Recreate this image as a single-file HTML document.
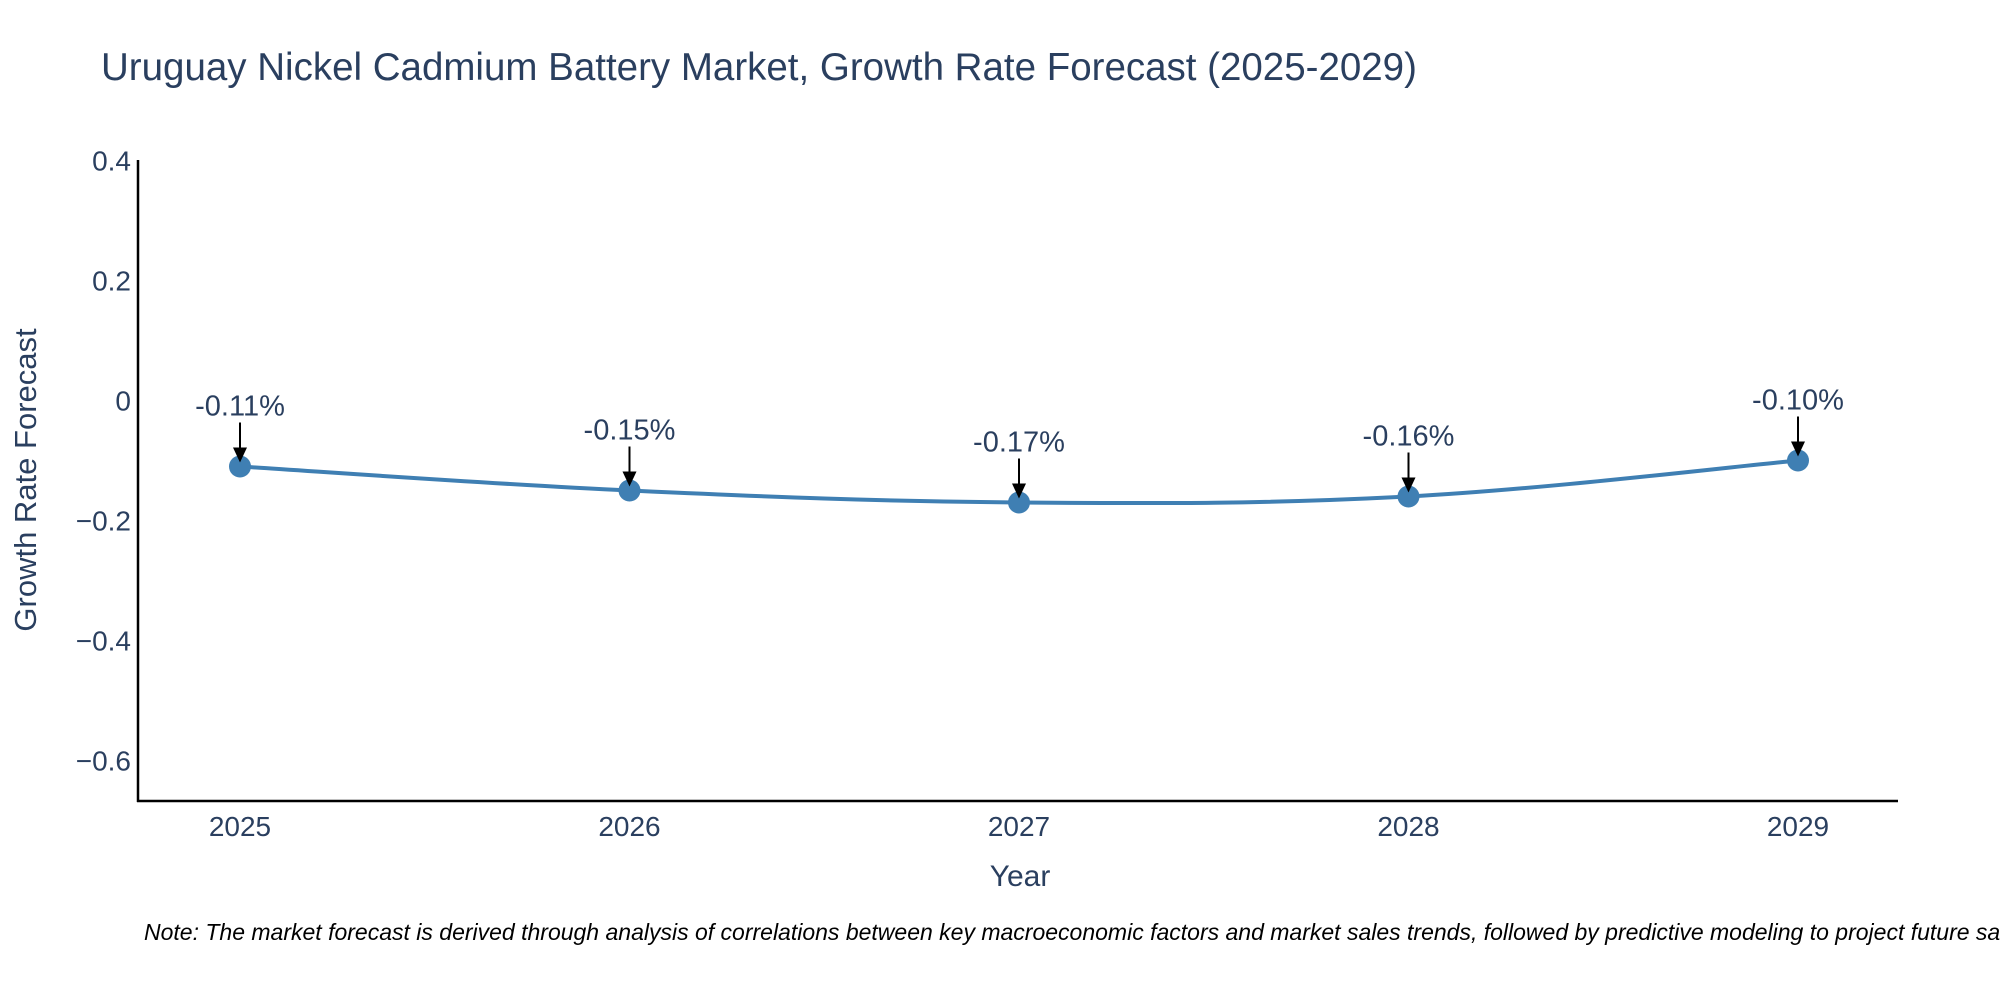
<!DOCTYPE html>
<html><head><meta charset="utf-8"><style>
body{margin:0;background:#fff;}
svg{display:block;font-family:"Liberation Sans","DejaVu Sans",sans-serif;}
</style></head><body>
<svg id="chart" width="2000" height="1000" viewBox="0 0 2000 1000">
<text x="101" y="80" font-size="38.5" fill="#2a3f5f">Uruguay Nickel Cadmium Battery Market, Growth Rate Forecast (2025-2029)</text>
<g id="yticks"></g>
<g id="xticks"></g>
<line x1="138" y1="160" x2="138" y2="802" stroke="#000" stroke-width="2.5"/>
<line x1="137" y1="801" x2="1898" y2="801" stroke="#000" stroke-width="2.5"/>
<text transform="translate(36,480) rotate(-90)" text-anchor="middle" font-size="31" fill="#2a3f5f">Growth Rate Forecast</text>
<text x="1020" y="886" text-anchor="middle" font-size="30" fill="#2a3f5f">Year</text>
<g id="series"></g>
<g id="annots"></g>
<text x="144" y="940" font-size="23" font-style="italic" fill="#000">Note: The market forecast is derived through analysis of correlations between key macroeconomic factors and market sales trends, followed by predictive modeling to project future sales.</text>
</svg>
<script>
const years = [2025, 2026, 2027, 2028, 2029];
const growth = [-0.11, -0.15, -0.17, -0.16, -0.10];
const valueLabels = ["-0.11%", "-0.15%", "-0.17%", "-0.16%", "-0.10%"];
const yTickValues = [0.4, 0.2, 0, -0.2, -0.4, -0.6];
const yTickLabels = ["0.4", "0.2", "0", "\u22120.2", "\u22120.4", "\u22120.6"];

const NS = "http://www.w3.org/2000/svg";
function xs(yr){ return 240 + (yr - 2025) * 389.5; }
function ys(v){ return 400.5 - v * 600; }
function mk(tag, attrs, parent){
  const e = document.createElementNS(NS, tag);
  for (const k in attrs) e.setAttribute(k, attrs[k]);
  parent.appendChild(e); return e;
}
const yt = document.getElementById('yticks');
yTickValues.forEach((v,i)=>{
  const t = mk('text',{x:131,y:ys(v)+10,'text-anchor':'end','font-size':28,fill:'#2a3f5f'},yt);
  
  
  t.textContent = yTickLabels[i];
});
const xt = document.getElementById('xticks');
years.forEach(yr=>{
  const t = mk('text',{x:xs(yr),y:836,'text-anchor':'middle','font-size':28,fill:'#2a3f5f'},xt);
  
  
  t.textContent = yr;
});
const pts = years.map((yr,i)=>[xs(yr), ys(growth[i])]);
let d = "M"+pts[0][0]+","+pts[0][1];
for (let i=0;i<pts.length-1;i++){
  const p0=pts[Math.max(i-1,0)], p1=pts[i], p2=pts[i+1], p3=pts[Math.min(i+2,pts.length-1)];
  const s=0.18;
  const c1=[p1[0]+(p2[0]-p0[0])*s, p1[1]+(p2[1]-p0[1])*s];
  const c2=[p2[0]-(p3[0]-p1[0])*s, p2[1]-(p3[1]-p1[1])*s];
  d += " C"+c1+" "+c2+" "+p2;
}
const ser = document.getElementById('series');
const line = mk('path',{d:d,fill:'none',stroke:'#3f7fb3','stroke-width':4},ser);


const an = document.getElementById('annots');
pts.forEach((p,i)=>{
  const c = mk('circle',{cx:p[0],cy:p[1],r:11,fill:'#3f7fb3'},ser);
  
  
  const l = mk('line',{x1:p[0],y1:p[1]-44,x2:p[0],y2:p[1]-16,stroke:'#000','stroke-width':2},an);
  
  
  const h = mk('polygon',{points:(p[0]-7)+","+(p[1]-19)+" "+(p[0]+7)+","+(p[1]-19)+" "+p[0]+","+(p[1]-4),fill:'#000'},an);
  
  
  const t = mk('text',{x:p[0],y:p[1]-51,'text-anchor':'middle','font-size':29,fill:'#2a3f5f'},an);
  
  
  t.textContent = valueLabels[i];
});
</script>
</body></html>
